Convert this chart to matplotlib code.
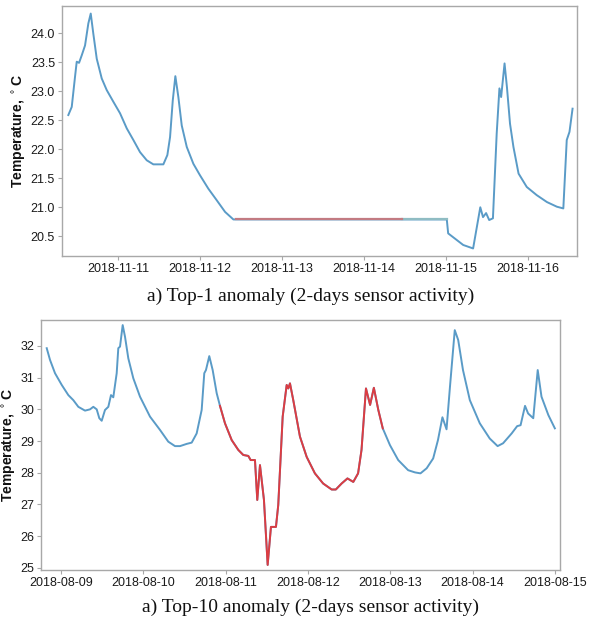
import matplotlib
matplotlib.use("Agg")
import matplotlib.pyplot as plt
import matplotlib.dates as mdates
import numpy as np
import pandas as pd

# ---------------- data ----------------
top_base = "2018-11-11"
top_hours = [-14.55, -13.55, -12.59, -12.09, -11.41, -10.62, -9.66, -8.69, -7.99, -7.23,
             -6.23, -4.77, -3.31, -1.38, 0.59, 2.55, 4.48, 6.44, 8.40, 10.33, 13.26, 14.43,
             15.22, 16.01, 16.77, 17.65, 18.64, 20.11, 22.04, 24.0, 26.43, 28.89, 31.32,
             33.75, 34.5, 60.0, 83.0, 96.2, 96.6, 101.0, 103.9, 106.0, 106.8, 107.7, 108.6,
             109.7, 110.8, 111.6, 112.1, 113.1, 113.8, 114.7, 115.7, 117.2, 119.6, 122.5,
             125.5, 128.4, 130.3, 131.3, 132.1, 133.0]
top_temp = [22.59, 22.73, 23.25, 23.51, 23.49, 23.62, 23.79, 24.17, 24.34, 23.99,
            23.56, 23.22, 23.02, 22.82, 22.62, 22.36, 22.16, 21.95, 21.81, 21.74, 21.74, 21.90,
            22.21, 22.84, 23.26, 22.90, 22.41, 22.04, 21.75, 21.55, 21.32, 21.12, 20.92,
            20.79, 20.79, 20.79, 20.79, 20.79, 20.55, 20.35, 20.29, 21.00, 20.83, 20.90, 20.78,
            20.81, 22.27, 23.05, 22.90, 23.48, 23.07, 22.44, 22.04, 21.58, 21.35, 21.21,
            21.09, 21.01, 20.98, 22.16, 22.30, 22.70]
top_anomaly = (34.5, 83.0)
top_after = (83.0, 96.2)

bot_base = "2018-08-09"
bot_hours = [-4.23, -3.27, -1.81, 0.15, 2.07, 3.53, 4.99, 6.94, 8.40, 9.36, 10.35, 11.11,
             11.81, 12.77, 13.74, 14.52, 15.19, 16.18, 16.65, 17.15, 17.93, 18.61, 19.57,
             21.03, 22.98, 25.90, 28.82, 31.23, 33.19, 34.65, 36.60, 38.06, 39.51, 40.97,
             41.73, 42.22, 43.19, 44.18, 45.35, 46.31, 47.77, 49.73, 51.65, 53.11, 54.57,
             55.26, 56.52, 57.19, 57.98, 59.14, 60.22, 61.18, 62.64, 63.31, 64.60, 65.77,
             66.24, 66.73, 67.69, 69.64, 71.6, 74.0, 76.4, 78.9, 80.1, 81.8, 83.5, 85.2,
             86.6, 87.6, 88.9, 90.1, 91.2, 92.5, 93.8, 95.9, 98.3, 101.2, 103.2, 104.8,
             106.6, 108.5, 109.9, 111.2, 112.4, 113.4, 114.8, 115.8, 117.2, 119.2, 122.1,
             125.0, 127.3, 128.9, 131.4, 133.0, 134.0, 135.3, 136.2, 137.7, 139.0, 140.1,
             142.1, 144.0]
bot_temp = [31.93, 31.56, 31.14, 30.77, 30.45, 30.29, 30.08, 29.96, 30.00, 30.08, 30.00, 29.72,
            29.64, 29.98, 30.08, 30.45, 30.38, 31.14, 31.93, 31.98, 32.66, 32.29, 31.61,
            30.98, 30.40, 29.77, 29.35, 28.98, 28.84, 28.84, 28.91, 28.95, 29.24, 29.98,
            31.14, 31.24, 31.68, 31.24, 30.51, 30.11, 29.56, 29.03, 28.72, 28.56, 28.53,
            28.40, 28.40, 27.14, 28.24, 27.14, 25.09, 26.29, 26.29, 26.98, 29.77, 30.77,
            30.66, 30.82, 30.29, 29.14, 28.50, 27.98, 27.66, 27.47, 27.47, 27.66, 27.82, 27.71,
            27.98, 28.72, 30.66, 30.14, 30.68, 29.98, 29.40, 28.87, 28.40, 28.08, 28.01, 27.98,
            28.14, 28.45, 29.03, 29.75, 29.37, 30.71, 32.50, 32.19, 31.24, 30.29, 29.56,
            29.08, 28.84, 28.93, 29.24, 29.47, 29.50, 30.11, 29.87, 29.72, 31.24, 30.40,
            29.82, 29.40]
bot_anomaly = (46.31, 93.8)

top_yticks = [20.5, 21.0, 21.5, 22.0, 22.5, 23.0, 23.5, 24.0]
bot_yticks = [25, 26, 27, 28, 29, 30, 31, 32]
ylabel = "Temperature, $^\\circ$C"
captions = ["a) Top-1 anomaly (2-days sensor activity)",
            "a) Top-10 anomaly (2-days sensor activity)"]

BLUE = "#5a9bc7"
RED_TOP = "#c27b82"
TEAL = "#8fbcc3"
RED_BOT = "#dc3c42"
SPINE = "#a8a8a8"


def to_time(base, hours):
    return pd.Timestamp(base) + pd.to_timedelta(np.asarray(hours), unit="h")


def segment(hours, vals, lo, hi):
    h = np.asarray(hours)
    v = np.asarray(vals)
    m = (h >= lo) & (h <= hi)
    return h[m], v[m]


fig = plt.figure(figsize=(6.0, 6.24), dpi=100)
ax1 = fig.add_axes([62 / 600, 1 - 256 / 624, (577 - 62) / 600, 250 / 624])
ax2 = fig.add_axes([41 / 600, 1 - 570 / 624, (560 - 41) / 600, 250 / 624])

# top panel
ax1.plot(to_time(top_base, top_hours), top_temp, color=BLUE, lw=1.4, zorder=2)
h, v = segment(top_hours, top_temp, *top_after)
ax1.plot(to_time(top_base, h), v, color=TEAL, lw=1.6, zorder=3)
h, v = segment(top_hours, top_temp, *top_anomaly)
ax1.plot(to_time(top_base, h), v, color=RED_TOP, lw=1.6, zorder=4)
ax1.set_xlim(to_time(top_base, [-16.4, 134.3]))
ax1.set_ylim(20.16, 24.47)
ax1.set_yticks(top_yticks)
ax1.set_yticklabels([f"{t:.1f}" for t in top_yticks])

# bottom panel
ax2.plot(to_time(bot_base, bot_hours), bot_temp, color=BLUE, lw=1.4, zorder=2)
h, v = segment(bot_hours, bot_temp, *bot_anomaly)
ax2.plot(to_time(bot_base, h), v, color=RED_BOT, lw=1.4, zorder=3)
ax2.set_xlim(to_time(bot_base, [-5.9, 145.5]))
ax2.set_ylim(24.93, 32.82)
ax2.set_yticks(bot_yticks)
ax2.set_yticklabels([str(t) for t in bot_yticks])

for ax, lx in ((ax1, -0.066), (ax2, -0.044)):
    ax.xaxis.set_major_locator(mdates.DayLocator())
    ax.xaxis.set_major_formatter(mdates.DateFormatter("%Y-%m-%d"))
    for s in ax.spines.values():
        s.set_color(SPINE)
        s.set_linewidth(1.0)
    ax.tick_params(axis="both", length=3, width=0.8, color=SPINE, pad=2,
                   labelsize=9, labelcolor="#1a1a1a")
    for lab in ax.get_xticklabels() + ax.get_yticklabels():
        lab.set_fontfamily("Liberation Sans")
    ax.set_ylabel(ylabel, fontsize=10, fontweight="bold", family="Liberation Sans",
                  color="#111111")
    ax.yaxis.set_label_coords(lx, 0.5)
    ax.set_facecolor("white")

fig.text(311 / 600, 1 - 296 / 624, captions[0], ha="center", va="center",
         fontsize=14, family="Liberation Serif", color="#111111")
fig.text(311 / 600, 1 - 607 / 624, captions[1], ha="center", va="center",
         fontsize=14, family="Liberation Serif", color="#111111")

fig.savefig("out.png", dpi=100, facecolor="white")
